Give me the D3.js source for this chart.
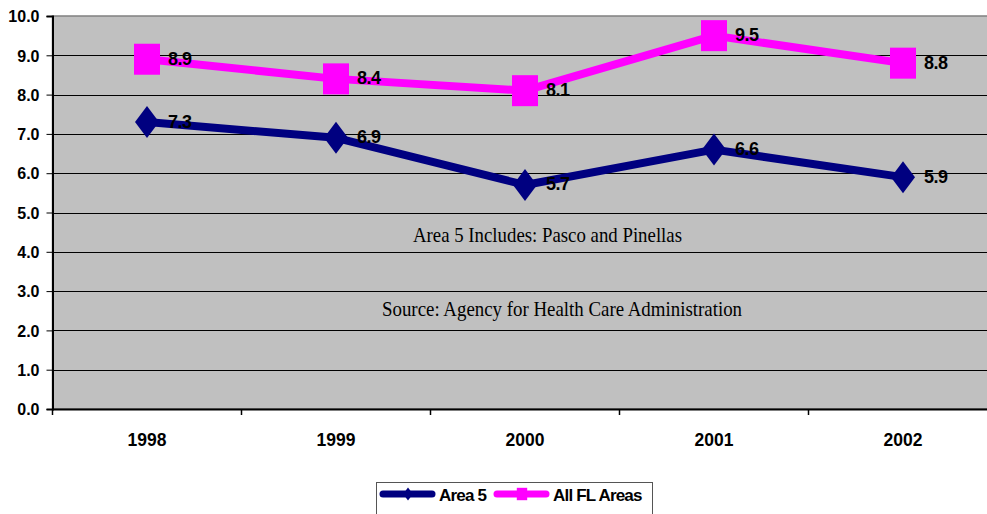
<!DOCTYPE html>
<html>
<head>
<meta charset="utf-8">
<script src="https://cdn.jsdelivr.net/npm/d3@7"></script>
<style>
  body { margin: 0; background: #fff; }
  svg { display: block; }
</style>
</head>
<body>
<div id="chart"></div>
<script>

var years = ["1998", "1999", "2000", "2001", "2002"];
var area5 = [7.3, 6.9, 5.7, 6.6, 5.9];
var allFL = [8.9, 8.4, 8.1, 9.5, 8.8];
var yTicks = [0, 1, 2, 3, 4, 5, 6, 7, 8, 9, 10];

var w = 987;
var h = 514;
var plotLeft = 52.5, plotTop = 16, plotBottom = 409, plotRight = 997.5;
var arial = "Arial, 'Liberation Sans', sans-serif";

var svg = d3.select("#chart")
	.append("svg")
	.attr("width", w)
	.attr("height", h);

var x = d3.scaleBand()
	.domain(years)
	.range([plotLeft, plotRight]);

var y = d3.scaleLinear()
	.domain([0, 10])
	.range([plotBottom, plotTop]);

// plot area
svg.append("rect")
	.attr("x", plotLeft)
	.attr("y", plotTop)
	.attr("width", plotRight - plotLeft)
	.attr("height", plotBottom - plotTop)
	.attr("fill", "#c0c0c0")
	.attr("stroke", "#808080")
	.attr("stroke-width", 1.5);

// gridlines
svg.selectAll(".grid")
	.data(yTicks.slice(1, -1))
	.enter()
	.append("line")
	.attr("x1", plotLeft)
	.attr("x2", plotRight)
	.attr("y1", function(d){ return Math.round(y(d)) + 0.5; })
	.attr("y2", function(d){ return Math.round(y(d)) + 0.5; })
	.attr("stroke", "#000")
	.attr("stroke-width", 1);

// y axis
var yAxis = svg.append("g")
	.attr("transform", "translate(" + plotLeft + ",0)")
	.call(d3.axisLeft(y).tickValues(yTicks).tickSize(6).tickFormat(d3.format(".1f")));
yAxis.select(".domain").attr("stroke", "#000").attr("stroke-width", 2);
yAxis.selectAll("text")
	.attr("x", -13)
	.attr("dy", "0.36em")
	.style("font-family", arial)
	.style("font-size", "16px")
	.style("font-weight", "bold")
	.attr("fill", "#000");

// x axis
var xAxis = svg.append("g")
	.attr("transform", "translate(0," + plotBottom + ")")
	.call(d3.axisBottom(x).tickSize(0));
xAxis.select(".domain").attr("stroke", "#000").attr("stroke-width", 2);
xAxis.selectAll("text")
	.attr("y", 37)
	.attr("dy", 0)
	.style("font-family", arial)
	.style("font-size", "17.5px")
	.style("font-weight", "bold")
	.attr("fill", "#000");

// category boundary ticks
svg.selectAll(".xtick")
	.data(years)
	.enter()
	.append("line")
	.attr("x1", function(d){ return x(d); })
	.attr("x2", function(d){ return x(d); })
	.attr("y1", plotBottom)
	.attr("y2", plotBottom + 6)
	.attr("stroke", "#000")
	.attr("stroke-width", 1.5);

var series = [
	{ name: "Area 5", values: area5, color: "#000080", shape: "diamond" },
	{ name: "All FL Areas", values: allFL, color: "#ff00ff", shape: "square" }
];

var line = d3.line()
	.x(function(d, i){ return x(years[i]) + x.bandwidth() / 2; })
	.y(function(d){ return y(d); });

function marker(g, shape, color, cx, cy, sc) {
	if (shape === "square") {
		g.append("rect")
			.attr("x", cx - 13 * sc)
			.attr("y", cy - 15.5 * sc)
			.attr("width", 26 * sc)
			.attr("height", 31 * sc)
			.attr("fill", color);
	} else {
		g.append("path")
			.attr("d", "M" + cx + "," + (cy - 16 * sc) + "L" + (cx + 12 * sc) + "," + cy +
				"L" + cx + "," + (cy + 16 * sc) + "L" + (cx - 12 * sc) + "," + cy + "Z")
			.attr("fill", color);
	}
}

series.forEach(function(s){
	svg.append("path")
		.datum(s.values)
		.attr("d", line)
		.attr("fill", "none")
		.attr("stroke", s.color)
		.attr("stroke-width", 8)
		.attr("stroke-linejoin", "round");

	var g = svg.append("g");
	s.values.forEach(function(v, i){
		var cx = x(years[i]) + x.bandwidth() / 2;
		marker(g, s.shape, s.color, cx, y(v), 1);
	});

	svg.selectAll(".lbl-" + s.shape)
		.data(s.values)
		.enter()
		.append("text")
		.attr("x", function(d, i){ return x(years[i]) + x.bandwidth() / 2 + 21; })
		.attr("y", function(d){ return y(d) - 1; })
		.attr("dy", "0.36em")
		.style("font-family", arial)
		.style("font-size", "18px")
		.style("font-weight", "bold")
		.style("letter-spacing", "-0.5px")
		.attr("fill", "#000")
		.text(function(d){ return d3.format(".1f")(d); });
});

// notes
var notes = [
	{ text: "Area 5 Includes: Pasco and Pinellas", x: 413, y: 242, len: 269 },
	{ text: "Source: Agency for Health Care Administration", x: 382, y: 316, len: 360 }
];
svg.selectAll(".note")
	.data(notes)
	.enter()
	.append("text")
	.attr("x", function(d){ return d.x; })
	.attr("y", function(d){ return d.y; })
	.attr("textLength", function(d){ return d.len; })
	.attr("lengthAdjust", "spacingAndGlyphs")
	.style("font-family", "'Liberation Serif', 'Times New Roman', serif")
	.style("font-size", "21px")
	.attr("fill", "#000")
	.text(function(d){ return d.text; });

// legend
var legend = svg.append("g");
legend.append("rect")
	.attr("x", 376.5)
	.attr("y", 482.5)
	.attr("width", 276)
	.attr("height", 40)
	.attr("fill", "#fff")
	.attr("stroke", "#555")
	.attr("stroke-width", 1);

var legendX = [380, 494];
series.forEach(function(s, i){
	var lx = legendX[i];
	legend.append("line")
		.attr("x1", lx + 3)
		.attr("x2", lx + 52)
		.attr("y1", 494)
		.attr("y2", 494)
		.attr("stroke", s.color)
		.attr("stroke-width", 7)
		.attr("stroke-linecap", "round");
	marker(legend, s.shape, s.color, lx + 28, 494, 0.4);
	legend.append("text")
		.attr("x", lx + 59)
		.attr("y", 501)
		.style("font-family", arial)
		.style("font-size", "17px")
		.style("font-weight", "bold")
		.style("letter-spacing", "-0.8px")
		.attr("fill", "#000")
		.text(s.name);
});

</script>
</body>
</html>
